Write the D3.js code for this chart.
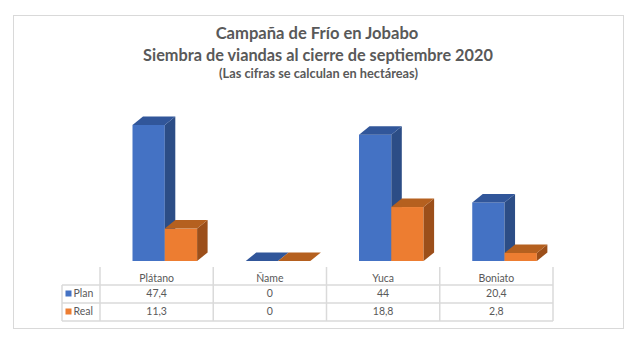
<!DOCTYPE html>
<html><head><meta charset="utf-8">
<script src="https://cdn.jsdelivr.net/npm/d3@7"></script>
<style>html,body{margin:0;padding:0;background:#fff;}svg{display:block;}</style>
</head><body>
<svg id="c" width="640" height="339"></svg>
<script>
const categories = ["Plátano", "Ñame", "Yuca", "Boniato"];
const seriesNames = ["Plan", "Real"];
const plan = [47.4, 0, 44, 20.4];
const real = [11.3, 0, 18.8, 2.8];
const titleLines = ["Campaña de Frío en Jobabo", "Siembra de viandas al cierre de septiembre 2020"];
const subtitle = "(Las cifras se calculan en hectáreas)";

const fontFam = "Lato, 'Open Sans', sans-serif";
const svg = d3.select("#c");
const colors = {
  Plan: {front: "#4472C4", top: "#31569A", side: "#2C4D86"},
  Real: {front: "#ED7D31", top: "#B5601F", side: "#9C4F1A"}
};
const values = {Plan: plan, Real: real};

// frame
svg.append("rect").attr("x", 13.5).attr("y", 15.5).attr("width", 610).attr("height", 313)
  .attr("fill", "#fff").attr("stroke", "#d9d9d9").attr("stroke-width", 1);

// titles
function fitText(sel, target) {
  const w = sel.node().getComputedTextLength();
  const fs = parseFloat(sel.attr("font-size"));
  sel.attr("font-size", fs * target / w);
}
const t1 = svg.append("text").attr("x", 317).attr("y", 39).attr("text-anchor", "middle")
  .attr("font-family", fontFam).attr("font-weight", "bold").attr("font-size", 15).attr("fill", "#595959").text(titleLines[0]);
fitText(t1, 203);
const t2 = svg.append("text").attr("x", 318).attr("y", 61).attr("text-anchor", "middle")
  .attr("font-family", fontFam).attr("font-weight", "bold").attr("font-size", 15).attr("fill", "#595959").text(titleLines[1]);
fitText(t2, 350);
const t3 = svg.append("text").attr("x", 318.5).attr("y", 77.5).attr("text-anchor", "middle")
  .attr("font-family", fontFam).attr("font-weight", "bold").attr("font-size", 10).attr("fill", "#595959").text(subtitle);
fitText(t3, 199);

// scales
const x = d3.scaleBand().domain(categories).range([100, 553]).padding(0);
const xs = d3.scaleBand().domain(seriesNames).range([32.5, 97.1]).padding(0);
const base = 261;
const y = d3.scaleLinear().domain([0, 50]).range([base, 117.5]);
const dx = 10.5, dy = 8.5;

const gBars = svg.append("g");
categories.forEach((c, i) => {
  seriesNames.forEach(s => {
    const v = values[s][i];
    const x0 = x(c) + xs(s), w = xs.bandwidth(), yt = y(v);
    const col = colors[s];
    if (v > 0) {
      gBars.append("rect").attr("x", x0).attr("y", yt).attr("width", w).attr("height", base - yt).attr("fill", col.front);
      gBars.append("polygon").attr("points", [[x0 + w, yt], [x0 + w + dx, yt - dy], [x0 + w + dx, base - dy], [x0 + w, base]].join(" "))
        .attr("fill", col.side);
    }
    gBars.append("polygon").attr("points", [[x0, yt], [x0 + dx, yt - dy], [x0 + w + dx, yt - dy], [x0 + w, yt]].join(" "))
      .attr("fill", col.top);
  });
});

// data table
const lineCol = "#dadada";
const tb = svg.append("g").attr("stroke", lineCol).attr("stroke-width", 1.5).attr("fill", "none");
const rowTop = 267, r1 = 285, r2 = 303, r3 = 321, left = 62, right = 553;
[r1, r2, r3].forEach(yy => tb.append("line").attr("x1", left).attr("x2", right).attr("y1", yy).attr("y2", yy));
tb.append("line").attr("x1", left).attr("x2", left).attr("y1", r1).attr("y2", r3);
categories.forEach(c => tb.append("line").attr("x1", x(c)).attr("x2", x(c)).attr("y1", rowTop).attr("y2", r3));
tb.append("line").attr("x1", right).attr("x2", right).attr("y1", rowTop).attr("y2", r3);

const fmt = v => String(v).replace(".", ",");
const txt = svg.append("g").attr("font-family", fontFam).attr("font-size", 10.5).attr("fill", "#595959").attr("text-anchor", "middle");
categories.forEach((c, i) => {
  const cx = x(c) + x.bandwidth() / 2;
  txt.append("text").attr("x", cx).attr("y", 281.5).text(c);
  txt.append("text").attr("x", cx).attr("y", 297).text(fmt(plan[i]));
  txt.append("text").attr("x", cx).attr("y", 315).text(fmt(real[i]));
});
seriesNames.forEach((s, j) => {
  const yy = [r1, r2][j];
  svg.append("rect").attr("x", 65.5).attr("y", yy + 5.5).attr("width", 6).attr("height", 6).attr("fill", colors[s].front);
  svg.append("text").attr("x", 73.5).attr("y", yy + 12).attr("font-family", fontFam).attr("font-size", 10.5)
    .attr("fill", "#595959").text(s);
});
</script>
</body></html>
